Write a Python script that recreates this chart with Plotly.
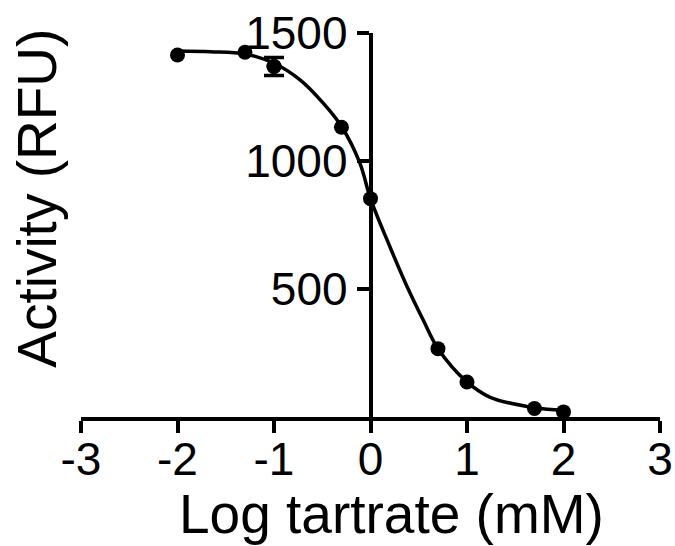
import plotly.graph_objects as go

# Measured data points
log_conc = [-2.0, -1.301, -1.0, -0.301, 0.0, 0.699, 1.0, 1.699, 2.0]
activity = [1414, 1425, 1369, 1132, 853, 267, 137, 33, 20]
activity_err = [0, 0, 35, 0, 0, 0, 0, 0, 0]

# Fitted curve
curve_x = [-2.0, -1.66, -1.3, -1.0, -0.73, -0.49, -0.3, -0.11, 0.0, 0.2, 0.37, 0.545, 0.7, 1.0, 1.235, 1.7, 2.0]
curve_y = [1430, 1427, 1418, 1382, 1317, 1226, 1135, 992, 853, 666, 517, 380, 267, 137, 78, 36, 26]

x_ticks = [-3, -2, -1, 0, 1, 2, 3]
x_tick_text = ["-3", "-2", "-1", "0", "1", "2", "3"]
y_ticks = [500, 1000, 1500]
y_tick_text = ["500", "1000", "1500"]

W, H = 675, 546
ML, MR, MT, MB = 81, 15, 33, 128.5
pw = W - ML - MR
ph = H - MT - MB

def px_x(p):
    return (p - ML) / pw

def px_y(p):
    return (H - MB - p) / ph

FONT = "Liberation Sans, Arial, sans-serif"

err_x = [x for x, e in zip(log_conc, activity_err) if e > 0]
err_y = [y for y, e in zip(activity, activity_err) if e > 0]
err_v = [e for e in activity_err if e > 0]

fig = go.Figure()
fig.add_trace(go.Scatter(
    x=curve_x, y=curve_y, mode="lines",
    line=dict(color="black", width=3.5, shape="spline", smoothing=1.0),
    hoverinfo="skip", cliponaxis=False,
))
fig.add_trace(go.Scatter(
    x=err_x, y=err_y, mode="markers",
    marker=dict(color="black", size=15),
    error_y=dict(type="data", array=err_v, visible=True,
                 color="black", thickness=3.5, width=10),
    cliponaxis=False,
))
fig.add_trace(go.Scatter(
    x=log_conc, y=activity, mode="markers",
    marker=dict(color="black", size=15),
    cliponaxis=False,
))

fig.update_layout(
    width=W, height=H,
    margin=dict(l=ML, r=MR, t=MT, b=MB, pad=0, autoexpand=False),
    paper_bgcolor="white", plot_bgcolor="white",
    showlegend=False,
    font=dict(family=FONT, color="black"),
    xaxis=dict(
        range=[-3, 3], tickvals=x_ticks, ticktext=x_tick_text,
        showline=True, linecolor="black", linewidth=3.5,
        ticks="outside", ticklen=12, tickwidth=3.5, tickcolor="black",
        showgrid=False, zeroline=False, automargin=False,
        ticklabelstandoff=-13,
        tickfont=dict(size=46, family=FONT, color="black"),
    ),
    yaxis=dict(
        range=[0, 1500], tickvals=y_ticks, ticktext=y_tick_text,
        anchor="free", position=0.5,
        showline=True, linecolor="black", linewidth=3.5,
        ticks="outside", ticklen=12, tickwidth=3.5, tickcolor="black",
        showgrid=False, zeroline=False, automargin=False,
        tickfont=dict(size=46, family=FONT, color="black"),
    ),
    annotations=[
        dict(text="Log tartrate (mM)", xref="paper", yref="paper",
             x=px_x(391), y=px_y(515), xanchor="center", yanchor="middle",
             showarrow=False, font=dict(size=55, family=FONT, color="black")),
        dict(text="Activity (RFU)", xref="paper", yref="paper",
             x=px_x(37), y=px_y(199), xanchor="center", yanchor="middle",
             textangle=-90,
             showarrow=False, font=dict(size=55, family=FONT, color="black")),
    ],
)

fig.write_html("out.html")
